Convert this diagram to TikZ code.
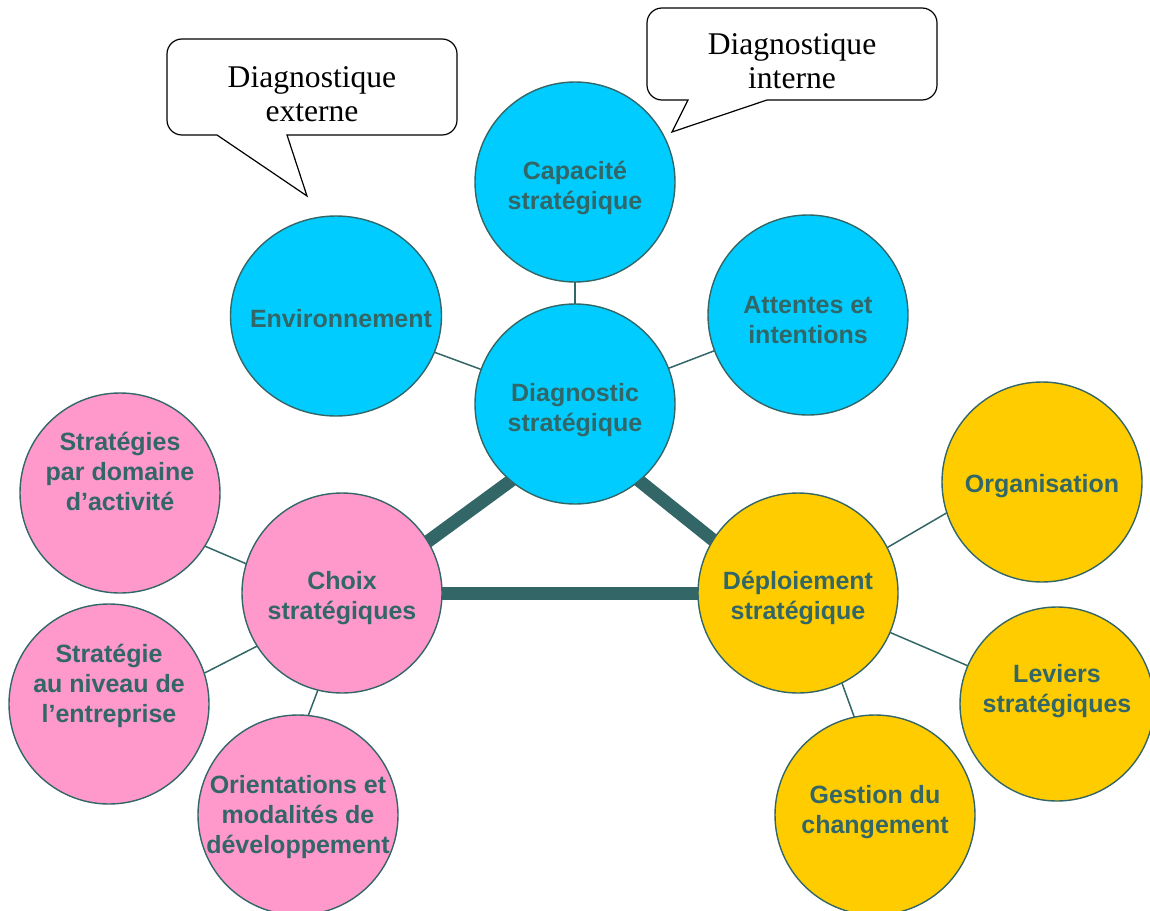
\documentclass[tikz,border=0pt]{standalone}
\usepackage{fontspec}
\setmainfont{Liberation Serif}
\setsansfont{Liberation Sans}
\usetikzlibrary{shapes.geometric,backgrounds}
\definecolor{bubcyan}{HTML}{00CCFF}
\definecolor{bubpink}{HTML}{FF99CC}
\definecolor{bubgold}{HTML}{FFCC00}
\definecolor{darkteal}{HTML}{336666}
\begin{document}
\begin{tikzpicture}[x=0.5pt, y=-0.5pt,
    bubtext/.style={font=\sffamily\bfseries\fontsize{12.5}{15}\selectfont, text=darkteal, align=center},
    bubble/.style={circle, draw=darkteal, line width=0.7pt, fill=#1, minimum size=100pt, inner sep=0pt},
    link/.style={draw=darkteal, line width=0.75pt, shorten <=-3pt, shorten >=-3pt},
    spine/.style={draw=darkteal, line width=6.5pt, shorten <=-8pt, shorten >=-8pt},
    balloon/.style={draw=black, line width=0.6pt, fill=white},
    balloontext/.style={font=\fontsize{15.8}{17}\selectfont, align=center}]
  \useasboundingbox (0,0) rectangle (1150,910);

  % bulles
  \draw[balloon] (192,135) -- (217,135) -- (307,196) -- (287,135) -- (442,135)
    arc[start angle=90, end angle=0, radius=15] -- (457,54)
    arc[start angle=0, end angle=-90, radius=15] -- (182,39)
    arc[start angle=-90, end angle=-180, radius=15] -- (167,120)
    arc[start angle=180, end angle=90, radius=15] -- cycle;
  \node[balloontext] (externe) at (312,94) {Diagnostique\\externe};
  \draw[balloon] (662,100) -- (688,100) -- (672,132) -- (767,100) -- (922,100)
    arc[start angle=90, end angle=0, radius=15] -- (937,23)
    arc[start angle=0, end angle=-90, radius=15] -- (662,8)
    arc[start angle=-90, end angle=-180, radius=15] -- (647,85)
    arc[start angle=180, end angle=90, radius=15] -- cycle;
  \node[balloontext] (interne) at (792,61) {Diagnostique\\interne};

  % diagnostic
  \node[bubble=bubcyan, label={[name=capa-t, bubtext, yshift=-3pt]center:{Capacité\\stratégique}}] (capa) at (575,182) {};
  \node[bubble=bubcyan, ellipse, minimum width=105.5pt, label={[name=envi-t, bubtext, xshift=2.5pt, yshift=-1.5pt]center:Environnement}] (envi) at (336,316) {};
  \node[bubble=bubcyan, label={[name=atte-t, bubtext, yshift=-2.5pt]center:{Attentes et\\intentions}}] (atte) at (808,315) {};
  \node[bubble=bubcyan, label={[name=diag-t, bubtext, yshift=-3pt]center:{Diagnostic\\stratégique}}] (diag) at (575,404) {};

  % choix
  \node[bubble=bubpink, label={[name=choix-t, bubtext, yshift=-2.5pt]center:{Choix\\stratégiques}}] (choix) at (342,593) {};
  \node[bubble=bubpink, label={[name=domaine-t, bubtext, yshift=11pt]center:{Stratégies\\par domaine\\d’activité}}] (domaine) at (120,493) {};
  \node[bubble=bubpink, label={[name=entreprise-t, bubtext, yshift=9pt]center:{Stratégie\\au niveau de\\l’entreprise}}] (entreprise) at (109,704) {};
  \node[bubble=bubpink, label={[name=orient-t, bubtext, yshift=-1pt]center:{Orientations et\\modalités de\\développement}}] (orient) at (298,815) {};

  % deploiement
  \node[bubble=bubgold, label={[name=deploi-t, bubtext, yshift=-2.5pt]center:{Déploiement\\stratégique}}] (deploi) at (798,593) {};
  \node[bubble=bubgold, label={[name=orga-t, bubtext, yshift=-2pt]center:Organisation}] (orga) at (1042,482) {};
  \node[bubble=bubgold, minimum size=97pt, label={[name=leviers-t, bubtext, yshift=6.5pt]center:{Leviers\\stratégiques}}] (leviers) at (1057,704) {};
  \node[bubble=bubgold, label={[name=gestion-t, bubtext, yshift=1.5pt]center:{Gestion du\\changement}}] (gestion) at (875,815) {};

  \begin{scope}[on background layer]
    \draw[spine] (diag.230) -- (choix.31);
    \draw[spine] (diag.-50) -- (deploi.148);
    \draw[spine] (choix.east) -- (deploi.west);
    \draw[link] (capa) -- (diag);
    \draw[link] (envi) -- (diag);
    \draw[link] (diag) -- (atte);
    \draw[link] (domaine.-32) -- (choix.163);
    \draw[link] (entreprise.18) -- (choix.212);
    \draw[link] (orient.84) -- (choix.256);
    \draw[link] (deploi.27) -- (orga.198);
    \draw[link] (deploi) -- (leviers);
    \draw[link] (deploi.-64) -- (gestion.102);
  \end{scope}
\end{tikzpicture}
\end{document}
